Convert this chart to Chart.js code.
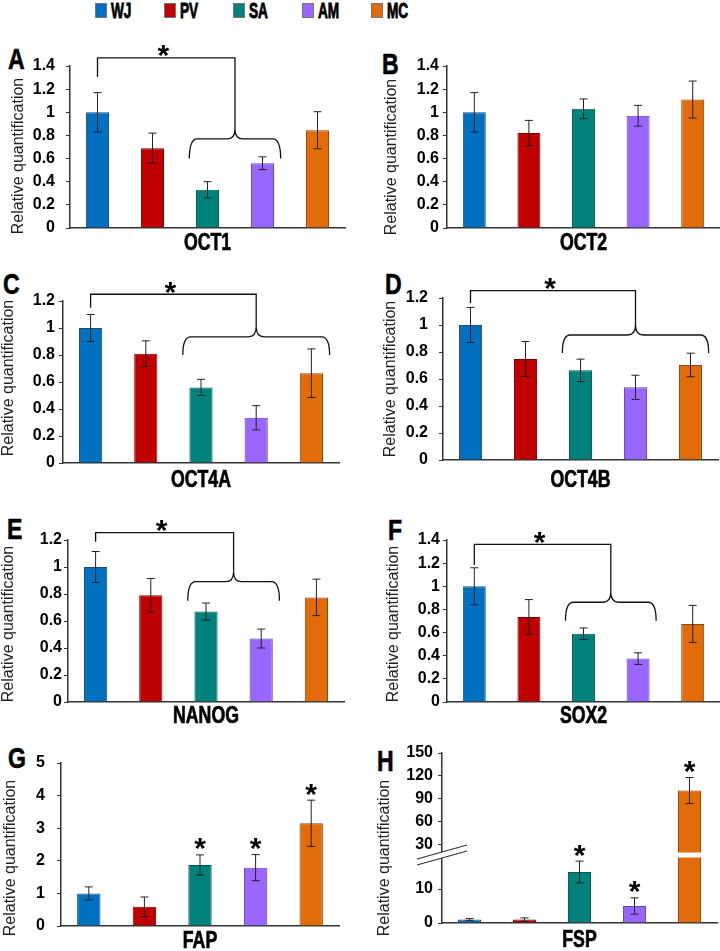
<!DOCTYPE html>
<html lang="en">
<head>
<meta charset="UTF-8" />
<title>Relative quantification</title>
<script src="https://cdn.jsdelivr.net/npm/chart.js"></script>
<style>
  body { margin:0; width:720px; height:951px; position:relative; overflow:hidden; background:#fff;
         font-family:"Liberation Sans",Arial,sans-serif; }
  canvas { position:absolute; }
  .tag { position:absolute; font-weight:bold; font-size:30px; line-height:1; color:#000;
         transform:scaleX(0.77); transform-origin:left top; -webkit-text-stroke:0.6px #000; }
  #legend { position:absolute; left:95px; top:0; display:flex; }
  #legend .item { width:69px; display:flex; align-items:flex-start; }
  #legend .box { width:12px; height:15px; margin-top:3px; box-sizing:border-box; border:1px solid #777; flex:none; }
  #legend .lab { font-weight:bold; font-size:22px; line-height:1; margin-left:4px;
                 transform:scaleX(0.62); transform-origin:left top; -webkit-text-stroke:0.9px #000; }
</style>
</head>
<body>
<div id="legend"></div>
<script>
// groups and colours
const groups = ['WJ', 'PV', 'SA', 'AM', 'MC'];
const fills = ['#0070C0', '#C00000', '#00827C', '#9966FF', '#E36C0A'];
const edges = ['#1F4E79', '#7F0000', '#005452', '#5E44A8', '#8E4308'];

// relative quantification (mean) and error (half-width) per gene
const oct1 = [1.0, 0.69, 0.33, 0.56, 0.845];
const oct1Err = [0.17, 0.13, 0.07, 0.055, 0.16];
const oct2 = [1.0, 0.82, 1.03, 0.97, 1.11];
const oct2Err = [0.17, 0.11, 0.085, 0.09, 0.16];
const oct4a = [1.0, 0.81, 0.56, 0.335, 0.665];
const oct4aErr = [0.1, 0.095, 0.06, 0.09, 0.18];
const oct4b = [1.0, 0.748, 0.664, 0.538, 0.704];
const oct4bErr = [0.13, 0.13, 0.083, 0.09, 0.087];
const nanog = [1.0, 0.79, 0.67, 0.47, 0.775];
const nanogErr = [0.115, 0.125, 0.063, 0.07, 0.135];
const sox2 = [1.0, 0.735, 0.59, 0.375, 0.675];
const sox2Err = [0.16, 0.15, 0.05, 0.05, 0.16];
const fap = [1.0, 0.59, 1.87, 1.79, 3.15];
const fapErr = [0.2, 0.3, 0.31, 0.4, 0.71];
const fsp = [1.0, 1.0, 15, 5, 101];
const fspErr = [0.3, 0.5, 3.2, 2.4, 17];

// significance marks
const fapStars = [false, false, true, true, true];
const fspStars = [false, false, true, true, true];

// FSP axis ticks (broken axis)
const fspTicks = [0, 10, 30, 60, 90, 120, 150];

// brackets: from one group to a braced set of groups, levels in axis units
const bracketA = { from: 0, group: [2, 3], top: 1.47, drop: 1.305, brace: 0.77, tip: 0.6 };
const bracketC = { from: 0, group: [2, 4], top: 1.25, drop: 1.15, brace: 0.935, tip: 0.8 };
const bracketD = { from: 0, group: [2, 4], top: 1.254, drop: 1.163, brace: 0.926, tip: 0.793 };
const bracketE = { from: 0, group: [2, 3], top: 1.254, drop: 1.187, brace: 0.891, tip: 0.75 };
const bracketF = { from: 0, group: [2, 3], top: 1.363, drop: 1.184, brace: 0.862, tip: 0.703 };

// broken axis for FSP: 0-20 linear, then 30-150 compressed
const fspMap = v => v <= 20 ? v : 23 + (v - 30) * 0.225;

const FONT = '"Liberation Sans",Arial,sans-serif';
const YTITLE = 'Relative quantification';

const panels = [
  { tag: 'A', tx: 8, ty: 44, gene: 'OCT1', values: oct1, errors: oct1Err, max: 1.4, step: 0.2, bracket: bracketA,
    x: 0, y: 38, w: 360, h: 218, left: 70, top: 66, right: 345, bottom: 228, tickPad: 11, titleX: 19, titleY: 156, nameY: 243 },
  { tag: 'B', tx: 382, ty: 49, gene: 'OCT2', values: oct2, errors: oct2Err, max: 1.4, step: 0.2,
    x: 360, y: 38, w: 360, h: 218, left: 447, top: 66, right: 720, bottom: 228, tickPad: 4, titleX: 392, titleY: 157, nameY: 243 },
  { tag: 'C', tx: 3, ty: 269, gene: 'OCT4A', values: oct4a, errors: oct4aErr, max: 1.2, step: 0.2, bracket: bracketC,
    x: 0, y: 268, w: 360, h: 225, left: 63, top: 301, right: 339, bottom: 463, tickPad: 4, titleX: 9, titleY: 378, nameY: 480 },
  { tag: 'D', tx: 385, ty: 269, gene: 'OCT4B', values: oct4b, errors: oct4bErr, max: 1.2, step: 0.2, bracket: bracketD,
    x: 360, y: 266, w: 360, h: 227, left: 443, top: 298, right: 718, bottom: 460, tickPad: 11, titleX: 391, titleY: 379, nameY: 480 },
  { tag: 'E', tx: 7, ty: 514, gene: 'NANOG', values: nanog, errors: nanogErr, max: 1.2, step: 0.2, bracket: bracketE,
    x: 0, y: 512, w: 360, h: 217, left: 68, top: 540, right: 344, bottom: 702, tickPad: 2, titleX: 9, titleY: 624, nameY: 716 },
  { tag: 'F', tx: 388, ty: 515, gene: 'SOX2', values: sox2, errors: sox2Err, max: 1.4, step: 0.2, bracket: bracketF,
    x: 360, y: 515, w: 360, h: 214, left: 447, top: 540, right: 720, bottom: 702, tickPad: 3, titleX: 394, titleY: 624, nameY: 716 },
  { tag: 'G', tx: 8, ty: 743, gene: 'FAP', values: fap, errors: fapErr, max: 5, step: 1, stars: fapStars,
    x: 0, y: 740, w: 360, h: 214, left: 61, top: 763, right: 339, bottom: 926, tickPad: 12, titleX: 11, titleY: 858, nameY: 941 },
  { tag: 'H', tx: 377, ty: 746, gene: 'FSP', values: fsp, errors: fspErr, max: 50, step: 10, stars: fspStars,
    map: fspMap, ticksList: fspTicks, breakAt: 20,
    x: 360, y: 735, w: 360, h: 218, left: 442, top: 753, right: 717, bottom: 923, tickPad: 5, titleX: 385, titleY: 858, nameY: 940 }
];

// legend
const legend = document.getElementById('legend');
groups.forEach((g, i) => {
  const it = document.createElement('div');
  it.className = 'item';
  it.innerHTML = '<span class="box" style="background:' + fills[i] + '"></span><span class="lab">' + g + '</span>';
  legend.appendChild(it);
});

function star(ctx, x, cy) {
  ctx.font = 'bold 30px ' + FONT;
  ctx.textAlign = 'center';
  ctx.textBaseline = 'alphabetic';
  ctx.fillStyle = '#000';
  ctx.fillText('*', x, cy + 16.5);
}

// condensed, heavy text, as in the original figure
function narrow(ctx, text, x, y, font, sx) {
  ctx.save();
  ctx.translate(x, y);
  ctx.scale(sx, 1);
  ctx.font = font;
  ctx.textAlign = 'center';
  ctx.textBaseline = 'middle';
  ctx.fillStyle = '#000';
  ctx.strokeStyle = '#000';
  ctx.lineWidth = 0.7;
  ctx.fillText(text, 0, 0);
  ctx.strokeText(text, 0, 0);
  ctx.restore();
}

// error bars, brackets, stars, axis titles and the axis break
const overlay = {
  id: 'overlay',
  afterDatasetsDraw(chart, args, opts) {
    const p = opts.panel;
    const ctx = chart.ctx;
    const ys = chart.scales.y;
    const a = chart.chartArea;
    const bars = chart.getDatasetMeta(0).data;
    const m = p.map || (v => v);
    const py = v => ys.getPixelForValue(m(v));
    ctx.save();

    if (p.breakAt !== undefined) {
      const yb = ys.getPixelForValue(p.breakAt);
      // white gap through the tall bar
      bars.forEach((b, i) => {
        if (m(p.values[i]) > p.breakAt + 2) {
          ctx.fillStyle = '#fff';
          ctx.fillRect(b.x - b.width / 2 - 1, yb - 2.5, b.width + 2, 5);
        }
      });
      // break marks on the axis
      const dx = 25, sl = 0.28;
      ctx.fillStyle = '#fff';
      ctx.beginPath();
      ctx.moveTo(a.left - dx, yb - 3 + dx * sl);
      ctx.lineTo(a.left + dx, yb - 3 - dx * sl);
      ctx.lineTo(a.left + dx, yb + 3 - dx * sl);
      ctx.lineTo(a.left - dx, yb + 3 + dx * sl);
      ctx.closePath();
      ctx.fill();
      ctx.strokeStyle = '#333';
      ctx.lineWidth = 1.2;
      [-3, 3].forEach(o => {
        ctx.beginPath();
        ctx.moveTo(a.left - dx, yb + o + dx * sl);
        ctx.lineTo(a.left + dx, yb + o - dx * sl);
        ctx.stroke();
      });
    }

    ctx.strokeStyle = '#222';
    ctx.lineWidth = 1;
    bars.forEach((b, i) => {
      const hi = py(p.values[i] + p.errors[i]);
      const lo = py(Math.max(0, p.values[i] - p.errors[i]));
      ctx.beginPath();
      ctx.moveTo(b.x, hi); ctx.lineTo(b.x, lo);
      ctx.moveTo(b.x - 4, hi); ctx.lineTo(b.x + 4, hi);
      ctx.moveTo(b.x - 4, lo); ctx.lineTo(b.x + 4, lo);
      ctx.stroke();
      if (p.stars && p.stars[i]) star(ctx, b.x, hi - 13);
    });

    const br = p.bracket;
    if (br) {
      const cat = bars[1].x - bars[0].x;
      const xl = bars[br.from].x;
      const x1 = bars[br.group[0]].x - 0.33 * cat;
      const x2 = bars[br.group[1]].x + 0.33 * cat;
      const xc = (x1 + x2) / 2;
      const yt = py(br.top), yd = py(br.drop), yb = py(br.brace), ytip = py(br.tip);
      const cusp = yb - 10, r = 8;
      ctx.strokeStyle = '#111';
      ctx.lineWidth = 1.3;
      ctx.beginPath();
      ctx.moveTo(xl, yd); ctx.lineTo(xl, yt); ctx.lineTo(xc, yt); ctx.lineTo(xc, cusp);
      ctx.stroke();
      ctx.beginPath();
      ctx.moveTo(x1, ytip);
      ctx.quadraticCurveTo(x1, yb, x1 + r, yb);
      ctx.lineTo(xc - r, yb);
      ctx.quadraticCurveTo(xc, yb, xc, cusp);
      ctx.quadraticCurveTo(xc, yb, xc + r, yb);
      ctx.lineTo(x2 - r, yb);
      ctx.quadraticCurveTo(x2, yb, x2, ytip);
      ctx.stroke();
      star(ctx, (xl + xc) / 2 - 3, yt - 9);
    }

    // gene name under the axis
    narrow(ctx, p.gene, (a.left + a.right) / 2, p.nameY - p.y + 1, 'bold 23px ' + FONT, 0.77);

    // y axis title
    ctx.save();
    ctx.translate(p.titleX - p.x, p.titleY - p.y);
    ctx.rotate(-Math.PI / 2);
    ctx.font = '16px ' + FONT;
    ctx.textAlign = 'center';
    ctx.textBaseline = 'middle';
    ctx.fillStyle = '#222';
    ctx.fillText(YTITLE, 0, 0);
    ctx.restore();

    ctx.restore();
  }
};

panels.forEach(p => {
  const tag = document.createElement('div');
  tag.className = 'tag';
  tag.textContent = p.tag;
  tag.style.left = p.tx + 'px';
  tag.style.top = p.ty + 'px';
  document.body.appendChild(tag);

  const cv = document.createElement('canvas');
  cv.width = p.w; cv.height = p.h;
  cv.style.left = p.x + 'px'; cv.style.top = p.y + 'px';
  document.body.appendChild(cv);

  const data = p.map ? p.values.map(p.map) : p.values;
  const yScale = {
    min: 0, max: p.max,
    ticks: { stepSize: p.step, padding: p.tickPad, color: '#000',
             font: { family: FONT, size: 16, weight: 'bold' },
             callback: (v, i) => p.ticksList ? String(p.ticksList[i]) : String(+v.toFixed(1)) },
    grid: { drawOnChartArea: false, drawTicks: true, tickLength: 4, color: '#333' },
    border: { color: '#333', width: 1.5 },
    afterFit: s => { s.width = p.left - p.x; }
  };
  if (p.ticksList) {
    yScale.afterBuildTicks = s => { s.ticks = p.ticksList.map(t => ({ value: p.map(t) })); };
  }

  new Chart(cv, {
    type: 'bar',
    data: {
      labels: groups,
      datasets: [{ label: p.gene, data: data, backgroundColor: fills, borderColor: edges, borderWidth: 1,
                   barPercentage: 0.42, categoryPercentage: 1 }]
    },
    options: {
      responsive: false, animation: false, devicePixelRatio: 1,
      layout: { padding: { left: 0, top: p.top - p.y, right: p.x + p.w - p.right, bottom: 0 } },
      plugins: { legend: { display: false }, tooltip: { enabled: false }, overlay: { panel: p } },
      scales: {
        x: {
          grid: { display: false },
          border: { color: '#333', width: 1.5 },
          ticks: { display: false },
          afterFit: s => { s.height = p.y + p.h - p.bottom; }
        },
        y: yScale
      }
    },
    plugins: [overlay]
  });
});
</script>
</body>
</html>
